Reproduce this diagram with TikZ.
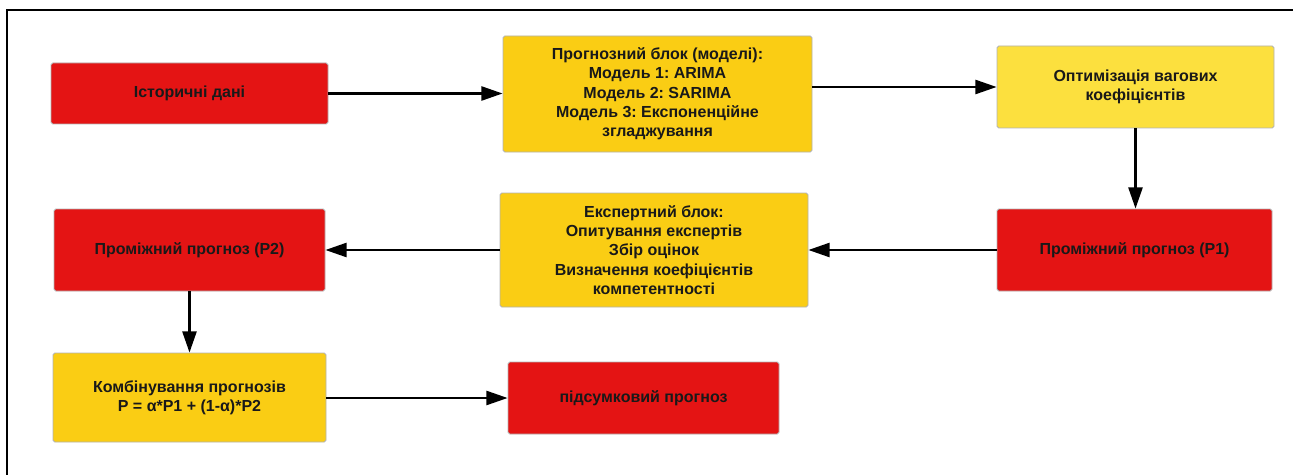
\documentclass[tikz,border=0pt]{standalone}
\usepackage{fontspec}
\setmainfont{Liberation Sans}
\usetikzlibrary{arrows.meta}
\frenchspacing

\definecolor{boxred}{RGB}{228,20,20}
\definecolor{boxgold}{RGB}{250,205,20}
\definecolor{boxyellow}{RGB}{252,224,62}

\begin{document}
\begin{tikzpicture}[
        block/.style={rectangle, draw=black!30, line width=0.5pt, rounded corners=1pt,
                      align=center, font=\fontsize{9.1}{11}\selectfont\bfseries, text=black!90},
        redblock/.style={block, fill=boxred},
        goldblock/.style={block, fill=boxgold},
        flow/.style={line width=1.2pt, -{Triangle[length=12pt, width=8pt]}},
        >=latex
    ]
    \useasboundingbox (0,0) rectangle (25.86,-9.5);
    % frame
    \draw[line width=1.1pt] (0.14,-9.5) -- (0.14,-0.2) -- (25.86,-0.2);

    % top row
    \node[redblock, minimum width=5.54cm, minimum height=1.22cm] (hist) at (3.79,-1.87) {Історичні дані};
    \node[goldblock, minimum width=6.18cm, minimum height=2.32cm] (models) at (13.15,-1.88)
        {Прогнозний блок (моделі):\\Модель 1: ARIMA\\Модель 2: SARIMA\\Модель 3: Експоненційне\\згладжування};
    \node[block, fill=boxyellow, minimum width=5.54cm, minimum height=1.64cm] (optim) at (22.71,-1.74)
        {Оптимізація вагових\\коефіцієнтів};

    % middle row
    \node[redblock, minimum width=5.5cm, minimum height=1.64cm] (pone) at (22.69,-5.0) {Проміжний прогноз (P1)};
    \node[goldblock, minimum width=6.16cm, minimum height=2.28cm] (expert) at (13.08,-5.0)
        {Експертний блок:\\Опитування експертів\\Збір оцінок\\Визначення коефіцієнтів\\компетентності};
    \node[redblock, minimum width=5.42cm, minimum height=1.64cm] (ptwo) at (3.79,-5.0) {Проміжний прогноз (P2)};

    % bottom row
    \node[goldblock, minimum width=5.46cm, minimum height=1.78cm] (combine) at (3.79,-7.95)
        {Комбінування прогнозів\\P = α*P1 + (1-α)*P2};
    \node[redblock, minimum width=5.42cm, minimum height=1.44cm] (final) at (12.87,-7.96) {підсумковий прогноз};

    % connectors
    \draw[flow] (hist.east) -- (hist.east -| models.west);
    \draw[flow] (models.east |- optim.west) -- (optim.west);
    \draw[flow] (optim.south) -- (optim.south |- pone.north);
    \draw[flow] (pone.west) -- (expert.east);
    \draw[flow] (expert.west) -- (ptwo.east);
    \draw[flow] (ptwo.south) -- (combine.north);
    \draw[flow] (combine.east |- final.west) -- (final.west);
\end{tikzpicture}
\end{document}
